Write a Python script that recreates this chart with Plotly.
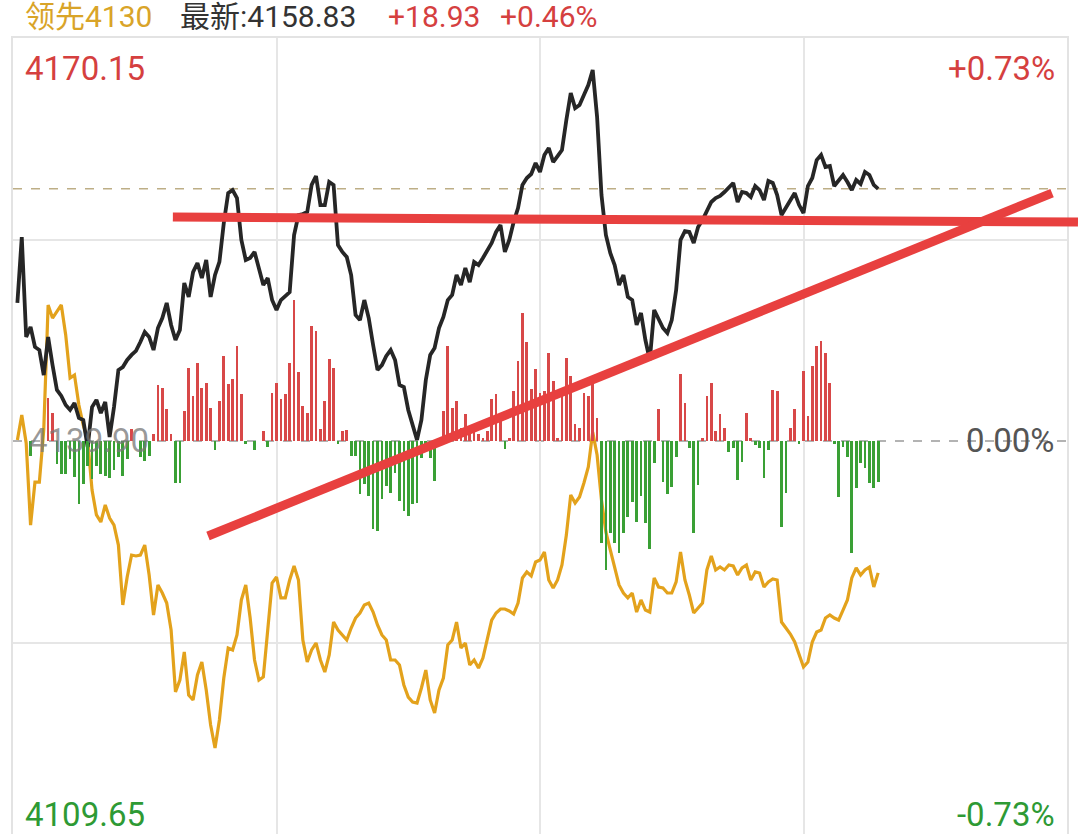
import plotly.graph_objects as go

# ---------------- data ----------------
prev_close = 4139.90
high_label = 4170.15
low_label = 4109.65
latest = 4158.83
lead_value = 4130
chg_points = 18.93
chg_pct = 0.46
range_pct = 0.73

# index change vs previous close (points), one value per minute
index_chg = [10.36, 15.31, 7.81, 8.56, 7.06, 6.83, 4.95, 7.81, 5.70, 3.83,
             3.38, 2.70, 2.33, 2.85, 1.73, 1.58, -0.45, 2.55, 3.08, 2.10,
             2.93, 0.30, 2.55, 5.33, 5.55, 6.08, 6.46, 6.76, 7.43, 8.18,
             7.81, 6.83, 8.48, 9.23, 10.36, 8.71, 7.58, 8.33, 11.86, 10.81,
             12.68, 13.36, 12.23, 13.59, 10.81, 12.46, 13.44, 16.36, 18.61, 18.84,
             18.24, 15.09, 13.59, 13.74, 14.19, 13.06, 11.71, 12.23, 10.58, 9.83,
             10.58, 10.88, 11.18, 15.46, 16.96, 17.04, 17.19, 19.22, 19.89, 17.71,
             17.71, 19.44, 19.22, 14.71, 14.19, 13.81, 12.46, 9.46, 9.08, 10.58,
             9.23, 7.21, 5.33, 5.70, 6.38, 6.83, 6.08, 4.20, 4.05, 2.33,
             1.20, 0.08, 1.58, 4.58, 6.46, 6.98, 8.48, 9.31, 10.58, 10.96,
             12.46, 11.71, 12.98, 11.93, 13.44, 13.21, 13.74, 14.34, 14.86, 15.69,
             16.21, 14.19, 15.09, 16.44, 17.49, 19.22, 19.74, 20.04, 20.87, 20.19,
             21.47, 21.99, 20.94, 21.39, 21.84, 24.09, 26.12, 24.99, 25.22, 25.97,
             26.72, 27.85, 24.32, 18.46, 15.46, 14.11, 13.21, 11.71, 12.46, 10.81,
             10.58, 8.71, 9.61, 7.58, 6.08, 9.83, 9.23, 8.48, 8.11, 9.08,
             11.33, 15.09, 15.76, 15.69, 14.86, 16.06, 16.59, 17.34, 17.94, 18.24,
             18.39, 18.69, 18.99, 19.37, 17.94, 18.69, 18.61, 18.31, 19.14, 18.84,
             18.09, 19.52, 19.37, 18.46, 16.96, 17.49, 18.09, 18.61, 17.71, 17.11,
             19.14, 19.74, 21.09, 21.47, 20.57, 20.64, 19.14, 19.59, 19.97, 19.44,
             18.84, 19.59, 19.29, 20.19, 19.97, 19.22, 18.93]

# leading indicator change vs previous close (points)
lead_chg = [0.08, 1.95, -0.15, -6.31, -3.08, -3.08, 0.83, 10.21, 9.23, 9.68,
            10.21, 7.96, 4.73, 4.95, 2.70, 1.20, 0.08, -3.68, -5.55, -6.08,
            -4.80, -5.78, -6.31, -7.81, -12.31, -10.21, -8.56, -8.63, -8.56, -7.81,
            -10.06, -13.06, -10.81, -11.41, -12.16, -14.19, -18.84, -17.94, -15.84, -19.07,
            -19.44, -17.56, -16.59, -18.69, -21.32, -23.04, -20.94, -17.79, -15.54, -15.69,
            -14.56, -11.93, -10.81, -13.29, -16.44, -17.94, -17.71, -14.19, -10.66, -10.21,
            -11.78, -11.78, -10.43, -9.38, -10.43, -14.94, -16.59, -15.69, -15.16, -16.44,
            -17.34, -16.06, -13.59, -14.19, -14.56, -14.94, -14.04, -13.29, -12.91, -12.31,
            -12.16, -12.84, -13.81, -14.56, -14.94, -16.44, -16.44, -16.81, -18.31, -19.22,
            -19.59, -19.67, -18.54, -17.19, -19.44, -20.42, -18.69, -17.79, -15.31, -14.94,
            -13.59, -15.54, -15.16, -16.81, -16.44, -17.04, -16.29, -14.79, -13.44, -12.91,
            -12.61, -12.61, -12.76, -12.99, -12.16, -10.28, -9.83, -10.13, -9.08, -8.93,
            -8.33, -10.43, -11.03, -10.43, -9.31, -7.06, -4.05, -4.65, -4.20, -3.15,
            -1.95, 0.68, -1.05, -4.43, -6.83, -8.18, -9.53, -10.81, -11.41, -11.78,
            -11.41, -12.84, -11.93, -12.69, -12.84, -10.28, -10.96, -11.03, -11.41, -11.41,
            -10.58, -8.33, -10.43, -11.56, -12.91, -12.53, -12.16, -9.68, -8.63, -9.68,
            -9.46, -9.68, -9.31, -9.38, -10.06, -9.53, -9.31, -10.43, -9.83, -9.91,
            -10.96, -10.58, -10.36, -10.43, -13.59, -14.04, -14.49, -15.09, -16.06, -16.96,
            -16.59, -15.09, -14.34, -14.19, -13.29, -13.06, -13.29, -13.44, -12.69, -11.93,
            -10.28, -9.53, -10.06, -9.68, -9.46, -10.96, -9.90]

# buy/sell strength bars (arbitrary units)
strength = [0, 0, 0, -15, 0, 0, 0, 43, 28, -23,
            -33, -33, -18, -36, -63, -43, -25, -38, -25, -33,
            -35, -37, -29, -16, -35, -18, 12, 0, -16, -20,
            -15, 7, 56, 53, 32, 7, -42, -42, 30, 73,
            45, 78, 53, 58, 33, -9, 40, 85, 57, 62,
            95, 47, -3, 0, -9, 0, 10, -6, 48, 58,
            42, 47, 78, 141, 69, 35, 28, 115, 110, 12,
            40, 82, 73, -3, 10, 11, -15, -15, -53, -43,
            -55, -88, -90, -58, -45, -52, -32, -60, -70, -75,
            -63, -62, -17, -5, -17, -40, 2, 30, 95, 33,
            40, 13, 27, 10, 10, 7, 3, 10, 42, 47,
            28, -8, 3, 50, 80, 128, 99, 52, 72, 48,
            50, 88, 60, 3, 47, 83, 65, 17, 13, 48,
            45, 57, 23, -102, -129, -92, -102, -112, -92, -76,
            -61, -81, -55, -82, -108, -22, 32, -41, -53, -46,
            -16, 67, 38, -7, -92, -44, 3, 45, 58, 10,
            27, 13, -11, -7, -39, -21, 28, 3, -4, -7,
            -37, -9, 51, 50, -86, -52, 13, 32, -3, 70,
            25, 75, 95, 100, 88, 58, -3, -56, -6, -16,
            -112, -47, -22, -27, -42, -47, -41]

# hand-drawn trend lines: (minute index, price) endpoints
trend_flat = [(35.4, 4156.71), (241.5, 4156.34)]
trend_rising = [(43.4, 4132.77), (235.6, 4158.51)]

# ---------------- layout geometry ----------------
W, H = 1080, 834
PL, PR, PT, PB = 13, 1067, 38, 834      # visible plot box (page pixels)
FULL_BOTTOM = 844                        # chart continues below the screenshot
x_range = [-1, 239]
y_hi = high_label
y_lo = high_label - (high_label - low_label) * (PB - PT) / (FULL_BOTTOM - PT)
bar_hi = (PT + FULL_BOTTOM) / 2 - PT
bar_lo = -(PB - (PT + FULL_BOTTOM) / 2)


def xp(px):
    return (px - PL) / (PR - PL)


def yp(py):
    return (PB - py) / (PB - PT)


def dx(v):
    return (v - x_range[0]) / (x_range[1] - x_range[0])


def dy(v):
    return (v - y_lo) / (y_hi - y_lo)


n = len(index_chg)
minutes = list(range(n))
index_price = [prev_close + c for c in index_chg]
lead_price = [prev_close + c for c in lead_chg]

RED = "#D5403F"
GREEN = "#2E9A34"
bar_colors = [("#D84848" if v > 0 else "#3AA035") for v in strength]

fig = go.Figure()
fig.add_trace(go.Bar(x=minutes, y=strength, marker_color=bar_colors,
                     marker_line_width=0, width=0.62, yaxis="y2",
                     showlegend=False, hoverinfo="skip"))
fig.add_trace(go.Scatter(x=minutes, y=lead_price, mode="lines",
                         line=dict(color="#E3A21C", width=3.2),
                         showlegend=False))
fig.add_trace(go.Scatter(x=minutes, y=index_price, mode="lines",
                         line=dict(color="#262626", width=3.8),
                         showlegend=False))

font_fam = "Roboto, 'Noto Sans CJK SC', sans-serif"

shapes = [
    dict(type="line", xref="paper", yref="y", x0=0, x1=1, y0=prev_close, y1=prev_close,
         line=dict(color="#9A9A9A", width=1.5, dash="dash"), layer="below"),
    dict(type="line", xref="paper", yref="y", x0=0, x1=1, y0=latest, y1=latest,
         line=dict(color="#BDAE86", width=1.5, dash="dash"), layer="below"),
]
for seg in (trend_flat, trend_rising):
    (xa, ya), (xb, yb) = seg
    shapes.append(dict(type="line", xref="paper", yref="paper",
                       x0=dx(xa), y0=dy(ya), x1=dx(xb), y1=dy(yb),
                       line=dict(color="#E8403F", width=9), layer="above"))

annotations = []


def label(text, px, py, color, size, anchor="left"):
    annotations.append(dict(text=text, x=xp(px), y=yp(py), xref="paper", yref="paper",
                            xanchor=anchor, yanchor="middle", showarrow=False,
                            font=dict(family=font_fam, size=size, color=color)))


label(f"领先{lead_value}", 23, 16, "#D9A428", 30)
label(f"最新:{latest:.2f}", 178, 16, "#333333", 30)
label(f"+{chg_points:.2f}", 386, 16, RED, 30)
label(f"+{chg_pct:.2f}%", 498, 16, RED, 30)
label(f"{high_label:.2f}", 23, 68, RED, 33)
label(f"+{range_pct:.2f}%", 1057, 68, RED, 33, "right")
label("0.00%", 1057, 440, "#555555", 33, "right")
label(f"{prev_close:.2f}", 27, 440, "rgba(120,120,120,0.75)", 33)
label(f"{low_label:.2f}", 23, 814, GREEN, 33)
label(f"-{range_pct:.2f}%", 1057, 814, GREEN, 33, "right")

mid_hi = prev_close + (y_hi - prev_close) / 2
mid_lo = prev_close - (high_label - prev_close) / 2

fig.update_layout(
    width=W, height=H,
    margin=dict(l=PL, r=W - PR, t=PT, b=H - PB, pad=0),
    paper_bgcolor="white", plot_bgcolor="white",
    bargap=0,
    xaxis=dict(range=x_range, tickvals=[59, 119, 179], showticklabels=False,
               showgrid=True, gridcolor="#E6E6E6", gridwidth=1.5, zeroline=False,
               showline=True, linecolor="#E3E3E3", linewidth=1.5, side="top",
               ticks="", fixedrange=True),
    yaxis=dict(range=[y_lo, y_hi], tickvals=[mid_hi, mid_lo], showticklabels=False,
               showgrid=True, gridcolor="#E6E6E6", gridwidth=1.5, zeroline=False,
               showline=True, mirror=True, linecolor="#E3E3E3", linewidth=1.5,
               ticks="", fixedrange=True),
    yaxis2=dict(range=[bar_lo, bar_hi], overlaying="y", visible=False,
                fixedrange=True),
    shapes=shapes,
    annotations=annotations,
    showlegend=False,
)

fig.write_html("out.html", config={"displayModeBar": False},
               post_script="document.body.style.margin='0';document.body.style.overflow='hidden';")
